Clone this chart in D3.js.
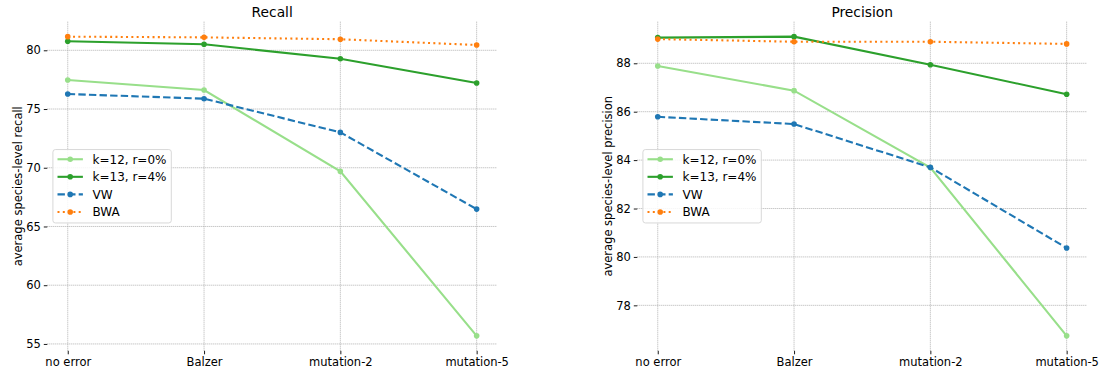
<!DOCTYPE html>
<html>
<head>
<meta charset="utf-8">
<script src="https://cdn.jsdelivr.net/npm/d3@7"></script>
<style>
  html, body { margin: 0; padding: 0; background: #fff; }
  svg { display: block; font-family: "DejaVu Sans", sans-serif; }
</style>
</head>
<body>
<svg id="chart" width="1103" height="368"></svg>
<script>
// Error scenarios along the x axis
const categories = ["no error", "Balzer", "mutation-2", "mutation-5"];

// Series labels, in legend order
const seriesNames = ["k=12, r=0%", "k=13, r=4%", "VW", "BWA"];

// Average species-level recall per scenario
const recallK12 = [77.47, 76.62, 69.69, 55.69];
const recallK13 = [80.77, 80.51, 79.28, 77.21];
const recallVW  = [76.28, 75.88, 73.01, 66.48];
const recallBWA = [81.16, 81.10, 80.94, 80.45];

// Average species-level precision per scenario
const precisionK12 = [87.89, 86.87, 83.69, 76.74];
const precisionK13 = [89.06, 89.10, 87.94, 86.72];
const precisionVW  = [85.79, 85.49, 83.70, 80.37];
const precisionBWA = [89.00, 88.89, 88.89, 88.80];

// Y tick values for each panel
const recallTicks = [55, 60, 65, 70, 75, 80];
const precisionTicks = [78, 80, 82, 84, 86, 88];

const styles = [
  { color: "#98df8a", dash: null },
  { color: "#2ca02c", dash: null },
  { color: "#1f77b4", dash: "7.4,3.2" },
  { color: "#ff7f0e", dash: "2,3.3" }
];

const svg = d3.select("#chart");
const plotTop = 21.7, plotBottom = 350.8;

function panel(opts) {
  const { left, right, title, ylabel, series, ticks } = opts;
  const g = svg.append("g");

  // x: categorical positions with 5% padding like the usual auto-margins
  const x = d3.scaleLinear()
    .domain([-0.15, categories.length - 1 + 0.15])
    .range([left, right]);

  const all = series.flat();
  const [mn, mx] = d3.extent(all);
  const pad = (mx - mn) * 0.05;
  const y = d3.scaleLinear()
    .domain([mn - pad, mx + pad])
    .range([plotBottom, plotTop]);

  // dotted grid
  const grid = g.append("g")
    .attr("stroke", "#a9a9a9")
    .attr("stroke-width", 0.9)
    .attr("stroke-dasharray", "1,1");
  grid.selectAll("line.h").data(ticks).join("line")
    .attr("x1", left).attr("x2", right)
    .attr("y1", d => y(d)).attr("y2", d => y(d));
  grid.selectAll("line.v").data(categories).join("line")
    .attr("x1", (d, i) => x(i)).attr("x2", (d, i) => x(i))
    .attr("y1", plotTop).attr("y2", plotBottom);

  // y axis (ticks and labels only, no spine)
  const yAxis = d3.axisLeft(y).tickValues(ticks).tickSize(3.5).tickPadding(3)
    .tickFormat(d3.format("d"));
  const ya = g.append("g").attr("transform", `translate(${left},0)`).call(yAxis);
  ya.select(".domain").remove();
  ya.selectAll("text").attr("font-size", "11.5px").attr("fill", "#000")
    .attr("font-family", "DejaVu Sans, sans-serif");
  ya.selectAll("line").attr("stroke", "#000").attr("stroke-width", 0.9);

  // x axis
  const xAxis = d3.axisBottom(x).tickValues(d3.range(categories.length))
    .tickSize(3.5).tickPadding(3.5).tickFormat(i => categories[i]);
  const xa = g.append("g").attr("transform", `translate(0,${plotBottom})`).call(xAxis);
  xa.select(".domain").remove();
  xa.selectAll("text").attr("font-size", "11.5px").attr("fill", "#000")
    .attr("font-family", "DejaVu Sans, sans-serif");
  xa.selectAll("line").attr("stroke", "#000").attr("stroke-width", 0.9);

  // title
  g.append("text")
    .attr("x", (left + right) / 2).attr("y", 17.3)
    .attr("text-anchor", "middle").attr("font-size", "13.8px")
    .text(title);

  // y label
  g.append("text")
    .attr("transform", `translate(${left - 25.3},${(plotTop + plotBottom) / 2}) rotate(-90)`)
    .attr("text-anchor", "middle").attr("font-size", "11.5px")
    .text(ylabel);

  // series
  const line = d3.line().x((d, i) => x(i)).y(d => y(d));
  series.forEach((vals, si) => {
    const st = styles[si];
    g.append("path").datum(vals)
      .attr("d", line)
      .attr("fill", "none")
      .attr("stroke", st.color)
      .attr("stroke-width", 2.1)
      .attr("stroke-dasharray", st.dash);
    g.selectAll(null).data(vals).join("circle")
      .attr("cx", (d, i) => x(i)).attr("cy", d => y(d))
      .attr("r", 2.8).attr("fill", st.color);
  });

  // legend, center left
  const lx = left + 5.6, lw = 118.4, lh = 73.4;
  const ly = (plotTop + plotBottom) / 2 - lh / 2;
  const lg = g.append("g").attr("transform", `translate(${lx},${ly})`);
  lg.append("rect")
    .attr("width", lw).attr("height", lh).attr("rx", 2.5)
    .attr("fill", "#fff").attr("fill-opacity", 0.85)
    .attr("stroke", "#d4d4d4").attr("stroke-width", 0.9);
  seriesNames.forEach((name, si) => {
    const st = styles[si];
    const cy = 9.7 + si * 17.57;
    lg.append("line")
      .attr("x1", 4.6).attr("x2", 30).attr("y1", cy).attr("y2", cy)
      .attr("stroke", st.color).attr("stroke-width", 2.1)
      .attr("stroke-dasharray", st.dash);
    lg.append("circle").attr("cx", 17.3).attr("cy", cy).attr("r", 2.8)
      .attr("fill", st.color);
    lg.append("text").attr("x", 39.6).attr("y", cy + 4.3)
      .attr("font-size", "12px").text(name);
  });
}

panel({
  left: 47.3, right: 497.1,
  title: "Recall",
  ylabel: "average species-level recall",
  series: [recallK12, recallK13, recallVW, recallBWA],
  ticks: recallTicks
});

panel({
  left: 637.3, right: 1087.1,
  title: "Precision",
  ylabel: "average species-level precision",
  series: [precisionK12, precisionK13, precisionVW, precisionBWA],
  ticks: precisionTicks
});
</script>
</body>
</html>
